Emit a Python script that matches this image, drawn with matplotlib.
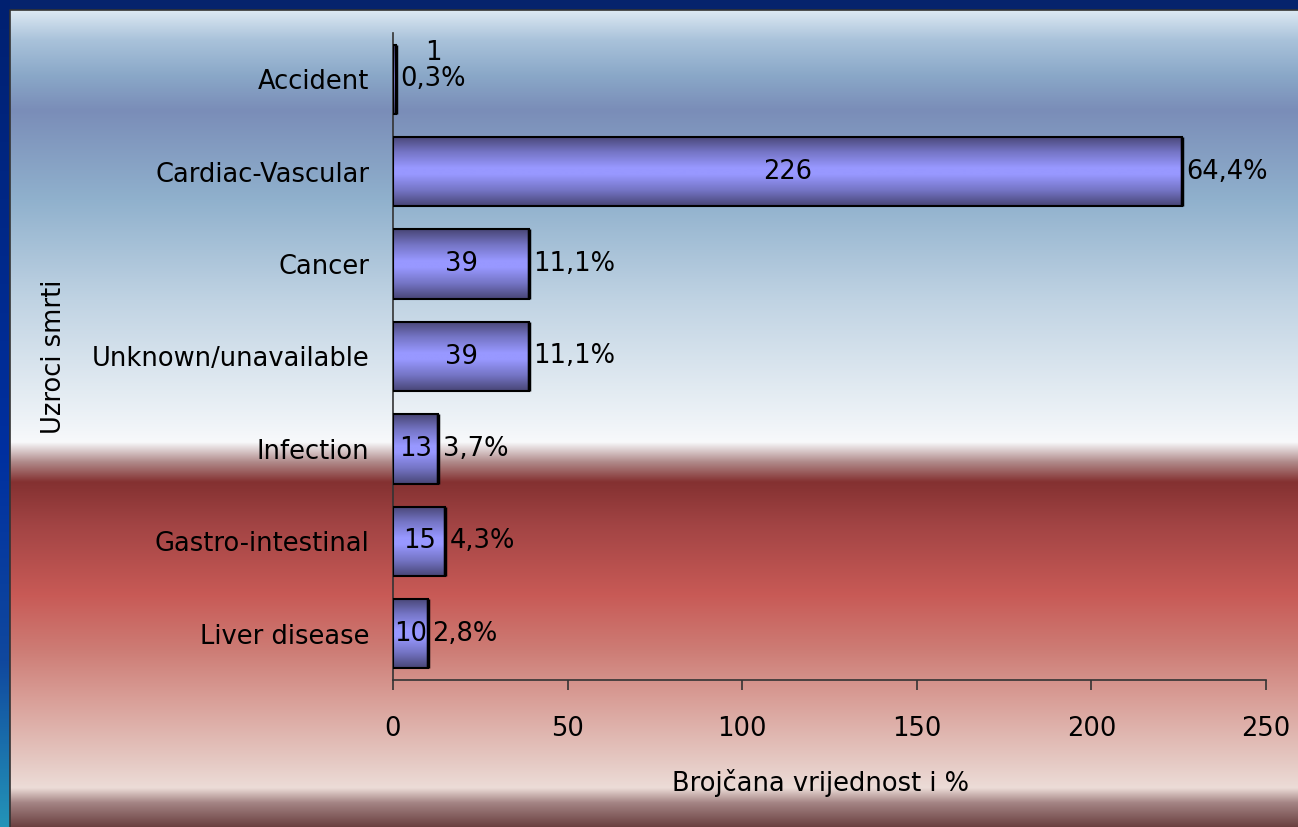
import numpy as np
import matplotlib
matplotlib.use("Agg")
import matplotlib.pyplot as plt
from matplotlib.colors import LinearSegmentedColormap

categories = ["Accident", "Cardiac-Vascular", "Cancer", "Unknown/unavailable",
              "Infection", "Gastro-intestinal", "Liver disease"]
counts = [1, 226, 39, 39, 13, 15, 10]
percents = ["0,3%", "64,4%", "11,1%", "11,1%", "3,7%", "4,3%", "2,8%"]
xticks = [0, 50, 100, 150, 200, 250]

W, H = 1298, 827
fig = plt.figure(figsize=(W / 100, H / 100), dpi=100)

# background: frame + slide gradient
bg = fig.add_axes([0, 0, 1, 1], zorder=-10)
bg.axis("off")
bg.add_patch(plt.Rectangle((0, 0), W, H, color="#06236c", zorder=0))
side = LinearSegmentedColormap.from_list(
    "side", [(0, "#012070"), (0.55, "#0030a0"), (0.8, "#10489e"), (1, "#2494b8")], N=1024)
bg.imshow(np.linspace(0, 1, 1024).reshape(-1, 1), cmap=side, aspect="auto",
          extent=(0, 10, H, 0), zorder=1)
stops = [(10, "#dde9f3"), (40, "#a9c2da"), (75, "#8aa8c8"), (110, "#7a8db8"),
         (200, "#90b1cd"), (300, "#c0d3e3"), (420, "#eef3f7"), (442, "#f8f9fb"),
         (462, "#b08a8a"), (482, "#843131"), (525, "#a24444"), (595, "#c85a56"),
         (650, "#cd7c75"), (700, "#d99f98"), (760, "#e5c8c2"), (788, "#ecdcd7"),
         (803, "#a48484"), (827, "#6a4040")]
grad = LinearSegmentedColormap.from_list(
    "bg", [((y - 10) / (H - 10), c) for y, c in stops], N=2048)
bg.imshow(np.linspace(0, 1, 2048).reshape(-1, 1), cmap=grad, aspect="auto",
          extent=(10, W, H, 10), zorder=1)
bg.plot([10, 10, W], [H, 10, 10], color="#333333", lw=1.2, zorder=2)
bg.set_xlim(0, W)
bg.set_ylim(H, 0)

# chart
ax = fig.add_axes([393 / W, 1 - 680 / H, (1266 - 393) / W, (680 - 33) / H])
ax.set_facecolor("none")

bar_cmap = LinearSegmentedColormap.from_list(
    "bar", [(0, "#484676"), (0.22, "#7474c4"), (0.45, "#9898ff"),
            (0.55, "#9898ff"), (0.78, "#7474c4"), (1, "#484676")])
h = 0.75
col = np.linspace(0, 1, 128).reshape(-1, 1)
for i, v in enumerate(counts):
    ax.imshow(col, cmap=bar_cmap, aspect="auto", zorder=2,
              extent=(0, v, i + h / 2, i - h / 2))
    ax.barh(i, v, height=h, color="none", edgecolor="black", lw=1.5, zorder=3)
    ax.plot([v, v], [i - h / 2, i + h / 2], color="black", lw=2.5, zorder=3,
            solid_capstyle="butt")
ax.set_xlim(0, 250)
ax.set_ylim(len(categories) - 0.5, -0.5)

fs = 18.5
for i, (v, p) in enumerate(zip(counts, percents)):
    pct = ax.annotate(p, (v, i), xytext=(3, 0), textcoords="offset points",
                      ha="left", va="center", fontsize=fs, zorder=4)
    if v >= 10:
        ax.text(v / 2, i, str(v), ha="center", va="center", fontsize=fs, zorder=4)
    else:
        # small bar: count goes above the percentage
        ax.annotate(str(v), xy=(0.5, 1), xycoords=pct, ha="center", va="bottom",
                    fontsize=fs, zorder=4)

ax.set_xticks(xticks)
ax.set_yticks(range(len(categories)))
ax.set_yticklabels(categories)
ax.tick_params(axis="x", length=7, width=1.2, color="#333333", pad=19, labelsize=fs)
ax.tick_params(axis="y", length=0, pad=17, labelsize=fs)
for s in ["top", "right"]:
    ax.spines[s].set_visible(False)
for s in ["left", "bottom"]:
    ax.spines[s].set_color("#333333")
    ax.spines[s].set_linewidth(1.2)

ax.set_xlabel("Brojčana vrijednost i %", fontsize=fs)
ax.set_ylabel("Uzroci smrti", fontsize=fs)
ax.yaxis.set_label_coords(-(393 - 67) / (1266 - 393), 0.5)
ax.xaxis.set_label_coords(0.49, -(769 - 680) / (680 - 33))

fig.savefig("out.png", dpi=100)
